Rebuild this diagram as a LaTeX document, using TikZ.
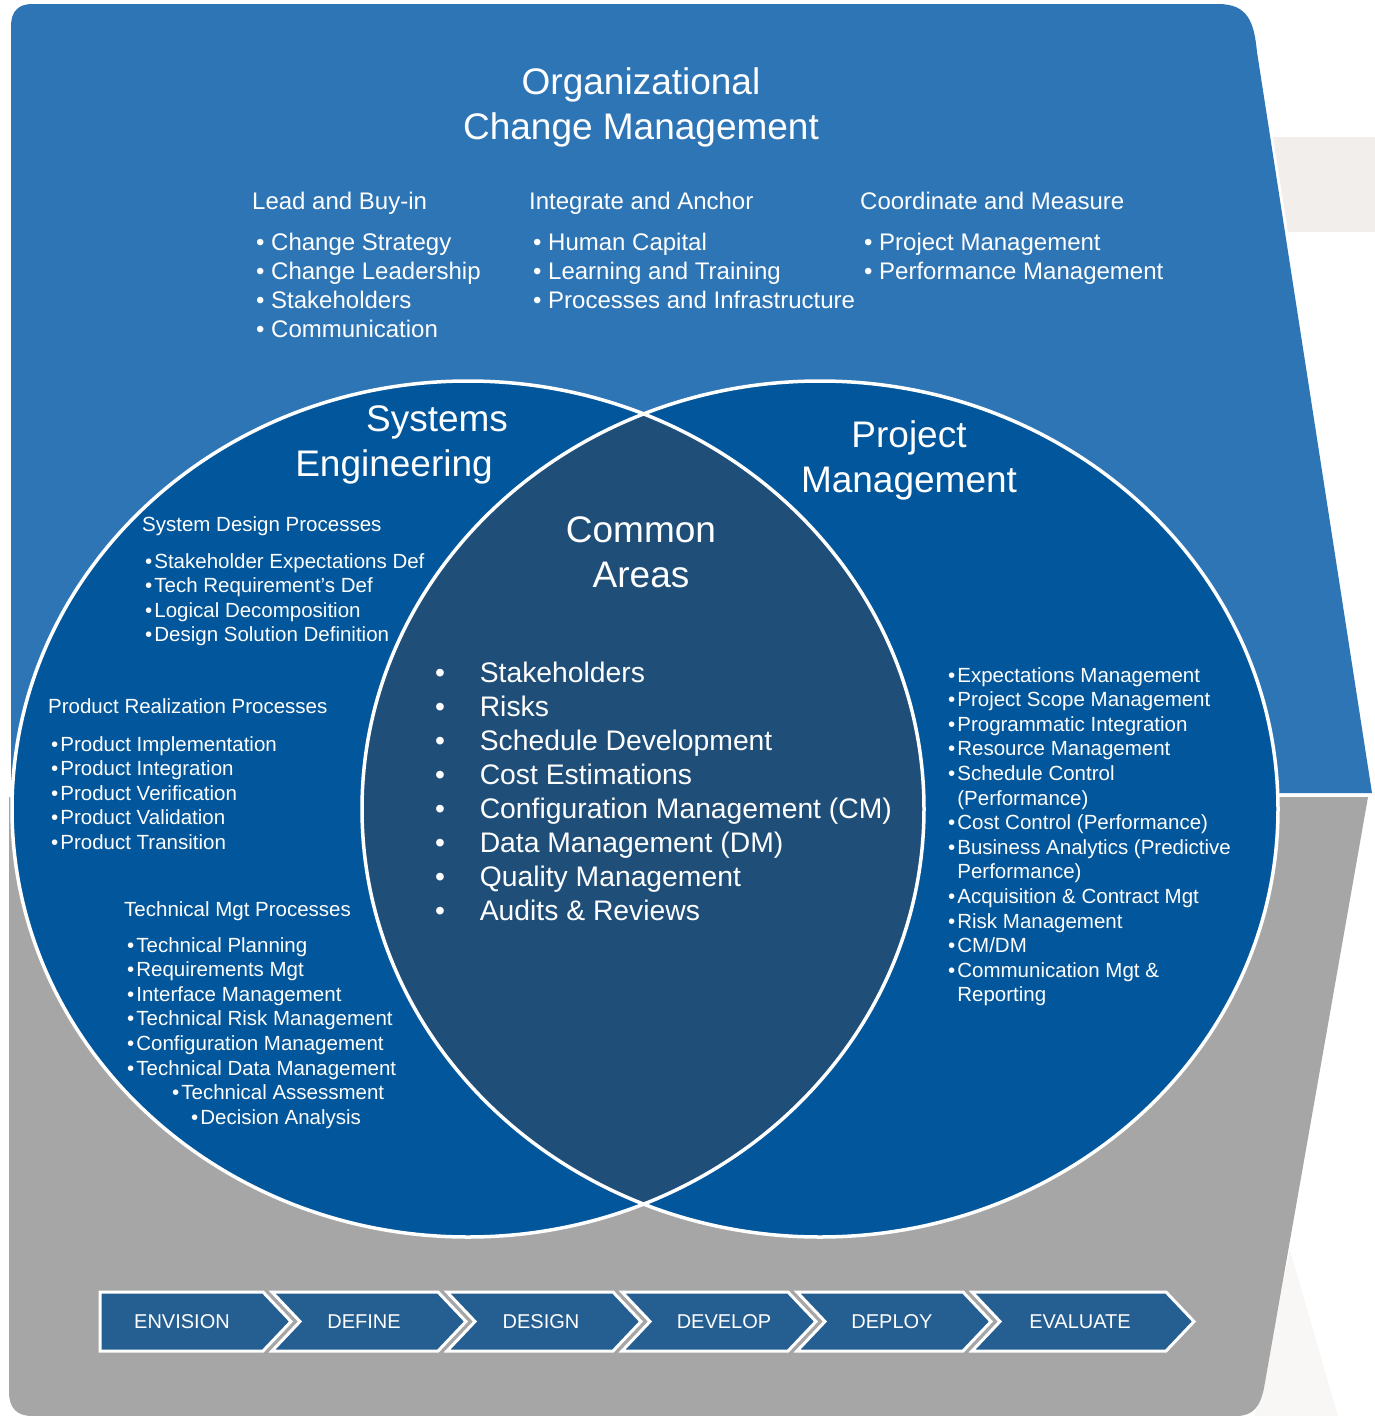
\documentclass[tikz,border=0pt]{standalone}
\usepackage{fontspec}
\setmainfont{Liberation Sans}

\definecolor{bandblue}{HTML}{2E75B6}
\definecolor{bandgray}{HTML}{A6A6A6}
\definecolor{circleblue}{HTML}{02569B}
\definecolor{lensblue}{HTML}{1F4E79}
\definecolor{stageblue}{HTML}{255E91}
\definecolor{paper}{HTML}{F2EEEB}

\newcommand{\bul}[1]{\textbullet\hspace{#1}}
\newcommand{\cont}[1]{\phantom{\textbullet}\hspace{#1}}

\begin{document}
\begin{tikzpicture}[x=1pt,y=-1pt]
    \tikzstyle{titletext} = [font=\fontsize{37}{45}\selectfont, text=white, inner sep=0pt, anchor=base]
    \tikzstyle{toptext} = [font=\fontsize{24}{29}\selectfont, text=white, inner sep=0pt, anchor=base west]
    \tikzstyle{smalltext} = [font=\fontsize{20.5}{24.6}\selectfont, text=white, inner sep=0pt, anchor=base west]
    \tikzstyle{commontext} = [font=\fontsize{28.3}{34}\selectfont, text=white, inner sep=0pt, anchor=base west]
    \tikzstyle{stagebox} = [draw=white, line width=3pt, fill=stageblue]
    \tikzstyle{stagetext} = [font=\fontsize{20}{24}\selectfont, text=white, inner sep=0pt, anchor=base]

    \useasboundingbox (0,0) rectangle (1375,1416);

    % faint paper behind
    \fill[paper] (1273,137) -- (1375,137) -- (1375,232) -- (1288,232) -- cycle;
    \fill[paper!50!white] (1290,1250) -- (1338,1416) -- (1255,1416) -- cycle;

    % bands
    \fill[bandblue] (11,793) -- (11,26) .. controls (11,12) and (18,4) .. (32,4) -- (1218,4)
        .. controls (1248,4) and (1254,22) .. (1257,52) -- (1372,793) -- cycle;
    \fill[bandgray] (9,797) -- (1368,797) -- (1264,1388) .. controls (1260,1407) and (1253,1416) .. (1236,1416)
        -- (32,1416) .. controls (17,1416) and (9,1408) .. (9,1392) -- cycle;

    % venn
    \fill[circleblue] (468,809) ellipse [x radius=456pt, y radius=428pt];
    \fill[circleblue] (820,809) ellipse [x radius=458pt, y radius=428pt];
    \begin{scope}
        \clip (468,809) ellipse [x radius=456pt, y radius=428pt];
        \fill[lensblue] (820,809) ellipse [x radius=458pt, y radius=428pt];
    \end{scope}
    \draw[white, line width=3.5pt] (468,809) ellipse [x radius=456pt, y radius=428pt]
        (820,809) ellipse [x radius=458pt, y radius=428pt];

    % organizational change management
    \node[titletext] (ocm) at (641,94) {\begin{tabular}[t]{@{}c@{}}Organizational\\Change Management\end{tabular}};

    \node[toptext] (leadhead) at (252,209) {Lead and Buy-in};
    \node[toptext] (leadlist) at (256,250) {\begin{tabular}[t]{@{}l@{}}
        \bul{6.6pt}Change Strategy\\
        \bul{6.6pt}Change Leadership\\
        \bul{6.6pt}Stakeholders\\
        \bul{6.6pt}Communication
    \end{tabular}};

    \node[toptext] (integhead) at (529,209) {Integrate and Anchor};
    \node[toptext] (integlist) at (533,250) {\begin{tabular}[t]{@{}l@{}}
        \bul{6.6pt}Human Capital\\
        \bul{6.6pt}Learning and Training\\
        \bul{6.6pt}Processes and Infrastructure
    \end{tabular}};

    \node[toptext] (coordhead) at (860,209) {Coordinate and Measure};
    \node[toptext] (coordlist) at (864,250) {\begin{tabular}[t]{@{}l@{}}
        \bul{6.6pt}Project Management\\
        \bul{6.6pt}Performance Management
    \end{tabular}};

    % systems engineering
    \node[titletext] (sys) at (437,431) {Systems};
    \node[titletext] (eng) at (394,476) {Engineering};

    \node[smalltext] (sdhead) at (142,531) {System Design Processes};
    \node[smalltext] (sdlist) at (145,568) {\begin{tabular}[t]{@{}l@{}}
        \bul{2pt}Stakeholder Expectations Def\\
        \bul{2pt}Tech Requirement’s Def\\
        \bul{2pt}Logical Decomposition\\
        \bul{2pt}Design Solution Definition
    \end{tabular}};

    \node[smalltext] (prhead) at (48,713) {Product Realization Processes};
    \node[smalltext] (prlist) at (51,751) {\begin{tabular}[t]{@{}l@{}}
        \bul{2pt}Product Implementation\\
        \bul{2pt}Product Integration\\
        \bul{2pt}Product Verification\\
        \bul{2pt}Product Validation\\
        \bul{2pt}Product Transition
    \end{tabular}};

    \node[smalltext] (tmhead) at (124,916) {Technical Mgt Processes};
    \node[smalltext] (tmlist) at (127,952) {\begin{tabular}[t]{@{}l@{}}
        \bul{2pt}Technical Planning\\
        \bul{2pt}Requirements Mgt\\
        \bul{2pt}Interface Management\\
        \bul{2pt}Technical Risk Management\\
        \bul{2pt}Configuration Management\\
        \bul{2pt}Technical Data Management\\
        \hspace{45pt}\bul{2pt}Technical Assessment\\
        \hspace{64pt}\bul{2pt}Decision Analysis
    \end{tabular}};

    % common areas
    \node[titletext] (common) at (641,542) {\begin{tabular}[t]{@{}c@{}}Common\\Areas\end{tabular}};
    \node[commontext] (commonlist) at (435,682) {\begin{tabular}[t]{@{}l@{}}
        \bul{34.7pt}Stakeholders\\
        \bul{34.7pt}Risks\\
        \bul{34.7pt}Schedule Development\\
        \bul{34.7pt}Cost Estimations\\
        \bul{34.7pt}Configuration Management (CM)\\
        \bul{34.7pt}Data Management (DM)\\
        \bul{34.7pt}Quality Management\\
        \bul{34.7pt}Audits \& Reviews
    \end{tabular}};

    % project management
    \node[titletext] (pm) at (909,447) {\begin{tabular}[t]{@{}c@{}}Project\\Management\end{tabular}};
    \node[smalltext] (pmlist) at (948,682) {\begin{tabular}[t]{@{}l@{}}
        \bul{2pt}Expectations Management\\
        \bul{2pt}Project Scope Management\\
        \bul{2pt}Programmatic Integration\\
        \bul{2pt}Resource Management\\
        \bul{2pt}Schedule Control\\
        \cont{2pt}(Performance)\\
        \bul{2pt}Cost Control (Performance)\\
        \bul{2pt}Business Analytics (Predictive\\
        \cont{2pt}Performance)\\
        \bul{2pt}Acquisition \& Contract Mgt\\
        \bul{2pt}Risk Management\\
        \bul{2pt}CM/DM\\
        \bul{2pt}Communication Mgt \&\\
        \cont{2pt}Reporting
    \end{tabular}};

    % life cycle stages
    \draw[stagebox] (100,1292) -- (263,1292) -- (291,1321.5) -- (263,1351) -- (100,1351) -- cycle;
    \node[stagetext] (envision) at (182,1328) {ENVISION};
    \foreach \x/\w/\lbl/\tx in {272/166/DEFINE/364, 447/166/DESIGN/541, 622/166/DEVELOP/724,
                                797/166/DEPLOY/892, 972/194/EVALUATE/1080} {
        \draw[stagebox] (\x,1292) -- ++(\w,0) -- ++(28,29.5) -- ++(-28,29.5) -- ++(-\w,0) -- ++(28,-29.5) -- cycle;
        \node[stagetext] (st-\lbl) at (\tx,1328) {\lbl};
    }

\end{tikzpicture}
\end{document}
